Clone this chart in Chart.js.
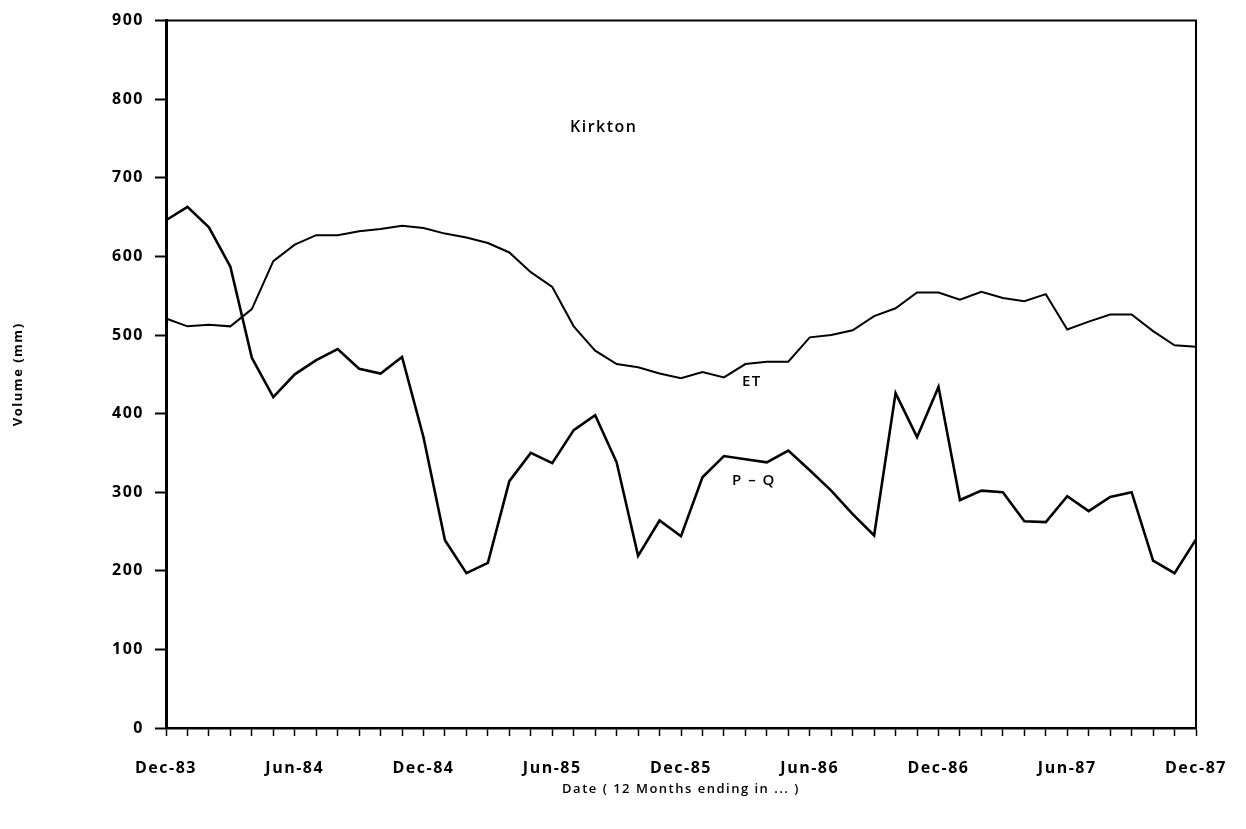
<!DOCTYPE html>
<html>
<head>
<meta charset="utf-8">
<title>Kirkton ET and P-Q</title>
<script src="https://cdn.jsdelivr.net/npm/chart.js@4.4.1/dist/chart.umd.min.js"></script>
<style>
  html, body { margin: 0; padding: 0; background: #fff; }
  #wrap { width: 1246px; height: 829px; }
</style>
</head>
<body>
<div id="wrap"><canvas id="kirkton"></canvas></div>
<script>
// 12-month running totals, Dec-83 .. Dec-87 (monthly)
const monthNames = ['Jan','Feb','Mar','Apr','May','Jun','Jul','Aug','Sep','Oct','Nov','Dec'];
const months = ['Dec-83'];
for (let yr = 84; yr <= 87; yr++) {
  monthNames.forEach(m => months.push(m + '-' + yr));
}

const etValues = [
  521, 511, 513, 511, 533, 594, 615, 627, 627, 632, 635, 639,
  636, 629, 624, 617, 605, 580, 561, 511, 480, 463, 459, 451,
  445, 453, 446, 463, 466, 466, 497, 500, 506, 524, 534, 554,
  554, 545, 555, 547, 543, 552, 507, 517, 526, 526, 505, 487,
  485
];

const pqValues = [
  646, 663, 637, 587, 471, 421, 450, 468, 482, 457, 451, 472,
  370, 239, 197, 210, 314, 350, 337, 379, 398, 338, 219, 264,
  244, 319, 346, 342, 338, 353, 328, 302, 272, 245, 426, 370,
  434, 290, 302, 300, 263, 262, 295, 276, 294, 300, 213, 197,
  240
];

const yTicks = [0, 100, 200, 300, 400, 500, 600, 700, 800, 900];

// text written inside the plot (month index, value)
const notes = [
  {text: 'Kirkton', i: 20.4, v: 764, size: 16},
  {text: 'ET', i: 27.3, v: 440, size: 15},
  {text: 'P \u2013 Q', i: 27.4, v: 315, size: 15}
];

const FONT = "'Open Sans', 'DejaVu Sans', sans-serif";

// box round the plot + the labels inside it
const frameAndNotes = {
  id: 'frameAndNotes',
  beforeInit(chart) {
    chart.ctx.letterSpacing = '1.5px';
  },
  beforeDraw(chart) {
    chart.ctx.letterSpacing = '1.5px';
  },
  afterDatasetsDraw(chart) {
    const {ctx, chartArea: a, scales: {x, y}} = chart;
    ctx.save();
    ctx.strokeStyle = '#000';
    ctx.lineWidth = 2;
    ctx.beginPath();
    ctx.moveTo(a.left, a.top);
    ctx.lineTo(a.right, a.top);
    ctx.lineTo(a.right, a.bottom);
    ctx.stroke();
    ctx.fillStyle = '#000';
    ctx.textAlign = 'center';
    ctx.textBaseline = 'middle';
    notes.forEach(n => {
      ctx.font = `600 ${n.size}px ${FONT}`;
      ctx.fillText(n.text, x.getPixelForValue(n.i), y.getPixelForValue(n.v));
    });
    ctx.restore();
  }
};

const ctx = document.getElementById('kirkton').getContext('2d');

new Chart(ctx, {
  type: 'line',
  data: {
    labels: months,
    datasets: [
      {
        label: 'ET',
        data: etValues,
        borderColor: '#000',
        borderWidth: 2,
        pointRadius: 0,
        tension: 0
      },
      {
        label: 'P-Q',
        data: pqValues,
        borderColor: '#000',
        borderWidth: 2.6,
        pointRadius: 0,
        tension: 0
      }
    ]
  },
  options: {
    responsive: true,
    maintainAspectRatio: false,
    animation: false,
    layout: { padding: { left: 4, right: 50, top: 20, bottom: 12 } },
    plugins: {
      legend: { display: false },
      tooltip: { enabled: false }
    },
    scales: {
      x: {
        type: 'category',
        offset: false,
        afterFit: s => { s.height = 89; },
        border: { color: '#000', width: 2.5 },
        grid: {
          drawOnChartArea: false,
          color: '#000',
          tickLength: 8,
          tickWidth: 1.5
        },
        ticks: {
          autoSkip: false,
          maxRotation: 0,
          padding: 23,
          color: '#000',
          font: { family: FONT, size: 16, weight: '700' },
          callback: (val, i) => (i % 6 === 0 ? months[i] : '')
        },
        title: {
          display: true,
          text: 'Date ( 12 Months ending in ... )',
          color: '#000',
          font: { family: FONT, size: 13, weight: '600' },
          padding: { top: 0, bottom: 20 }
        }
      },
      y: {
        min: 0,
        max: 900,
        afterFit: s => { s.width = 162; },
        afterBuildTicks: s => { s.ticks = yTicks.map(v => ({value: v})); },
        border: { color: '#000', width: 3 },
        grid: {
          drawOnChartArea: false,
          color: '#000',
          tickLength: 11,
          tickWidth: 2
        },
        ticks: {
          padding: 11,
          color: '#000',
          font: { family: FONT, size: 16, weight: '700' }
        },
        title: {
          display: true,
          text: 'Volume (mm)',
          color: '#000',
          font: { family: FONT, size: 13, weight: '700' },
          padding: { top: 6, bottom: 0 }
        }
      }
    }
  },
  plugins: [frameAndNotes]
});
</script>
</body>
</html>
